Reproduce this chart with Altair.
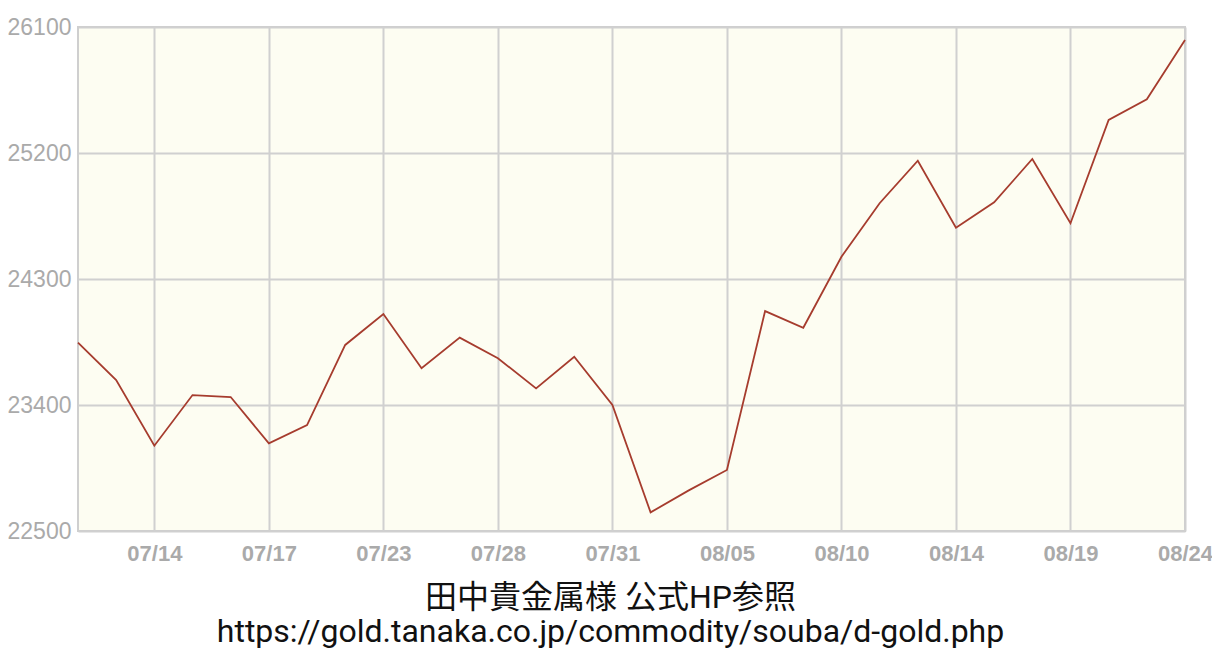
import altair as alt
import pandas as pd

dates = ["07/10", "07/13", "07/14", "07/15", "07/16", "07/17", "07/21", "07/22",
         "07/23", "07/24", "07/27", "07/28", "07/29", "07/30", "07/31", "08/03",
         "08/04", "08/05", "08/06", "08/07", "08/10", "08/12", "08/13", "08/14",
         "08/17", "08/18", "08/19", "08/20", "08/21", "08/24"]

prices = [23845, 23578, 23109, 23471, 23457, 23126, 23257, 23829,
          24050, 23662, 23881, 23734, 23519, 23745, 23400, 22633,
          22790, 22936, 24071, 23952, 24459, 24841, 25145, 24666,
          24848, 25157, 24698, 25436, 25584, 26007]

x_tick_labels = ["07/14", "07/17", "07/23", "07/28", "07/31",
                 "08/05", "08/10", "08/14", "08/19", "08/24"]
y_ticks = [22500, 23400, 24300, 25200, 26100]

caption_lines = ["田中貴金属様 公式HP参照",
                 "https://gold.tanaka.co.jp/commodity/souba/d-gold.php"]

df = pd.DataFrame({"date": dates, "price": prices})

chart = alt.Chart(df).mark_line(
    color="#a63c2e", strokeWidth=1.8
).encode(
    x=alt.X("date:O", sort=dates, title=None,
            scale=alt.Scale(type="point", padding=0),
            axis=alt.Axis(values=x_tick_labels, grid=True, gridColor="#d0d0d0",
                          gridWidth=2, domain=False, ticks=False, labelAngle=0,
                          labelFont="Liberation Sans", labelFontSize=22,
                          labelFontWeight="bold", labelColor="#aaaaaa",
                          labelPadding=12)),
    y=alt.Y("price:Q", title=None,
            scale=alt.Scale(domain=[22500, 26100], nice=False, zero=False),
            axis=alt.Axis(values=y_ticks, format="d", grid=True, gridColor="#d0d0d0",
                          gridWidth=2, domain=False, ticks=False,
                          labelFont="Liberation Sans", labelFontSize=23,
                          labelColor="#aaaaaa", labelPadding=7,
                          labelBaseline="middle")),
).properties(
    width=1107,
    height=504,
    autosize=alt.AutoSizeParams(type="none"),
    padding={"left": 70, "top": 19, "right": 27, "bottom": 130},
    title=alt.TitleParams(
        text=caption_lines, orient="bottom", anchor="middle",
        font="Roboto, 'Noto Sans CJK JP'", fontSize=32, fontWeight="normal",
        color="#111111", lineHeight=34, offset=19, dx=-21,
    ),
).configure_view(
    fill="#fdfdf2", stroke="#cfcfcf", strokeWidth=2
)

chart.save("out.html", embed_options={"renderer": "svg", "actions": False})
